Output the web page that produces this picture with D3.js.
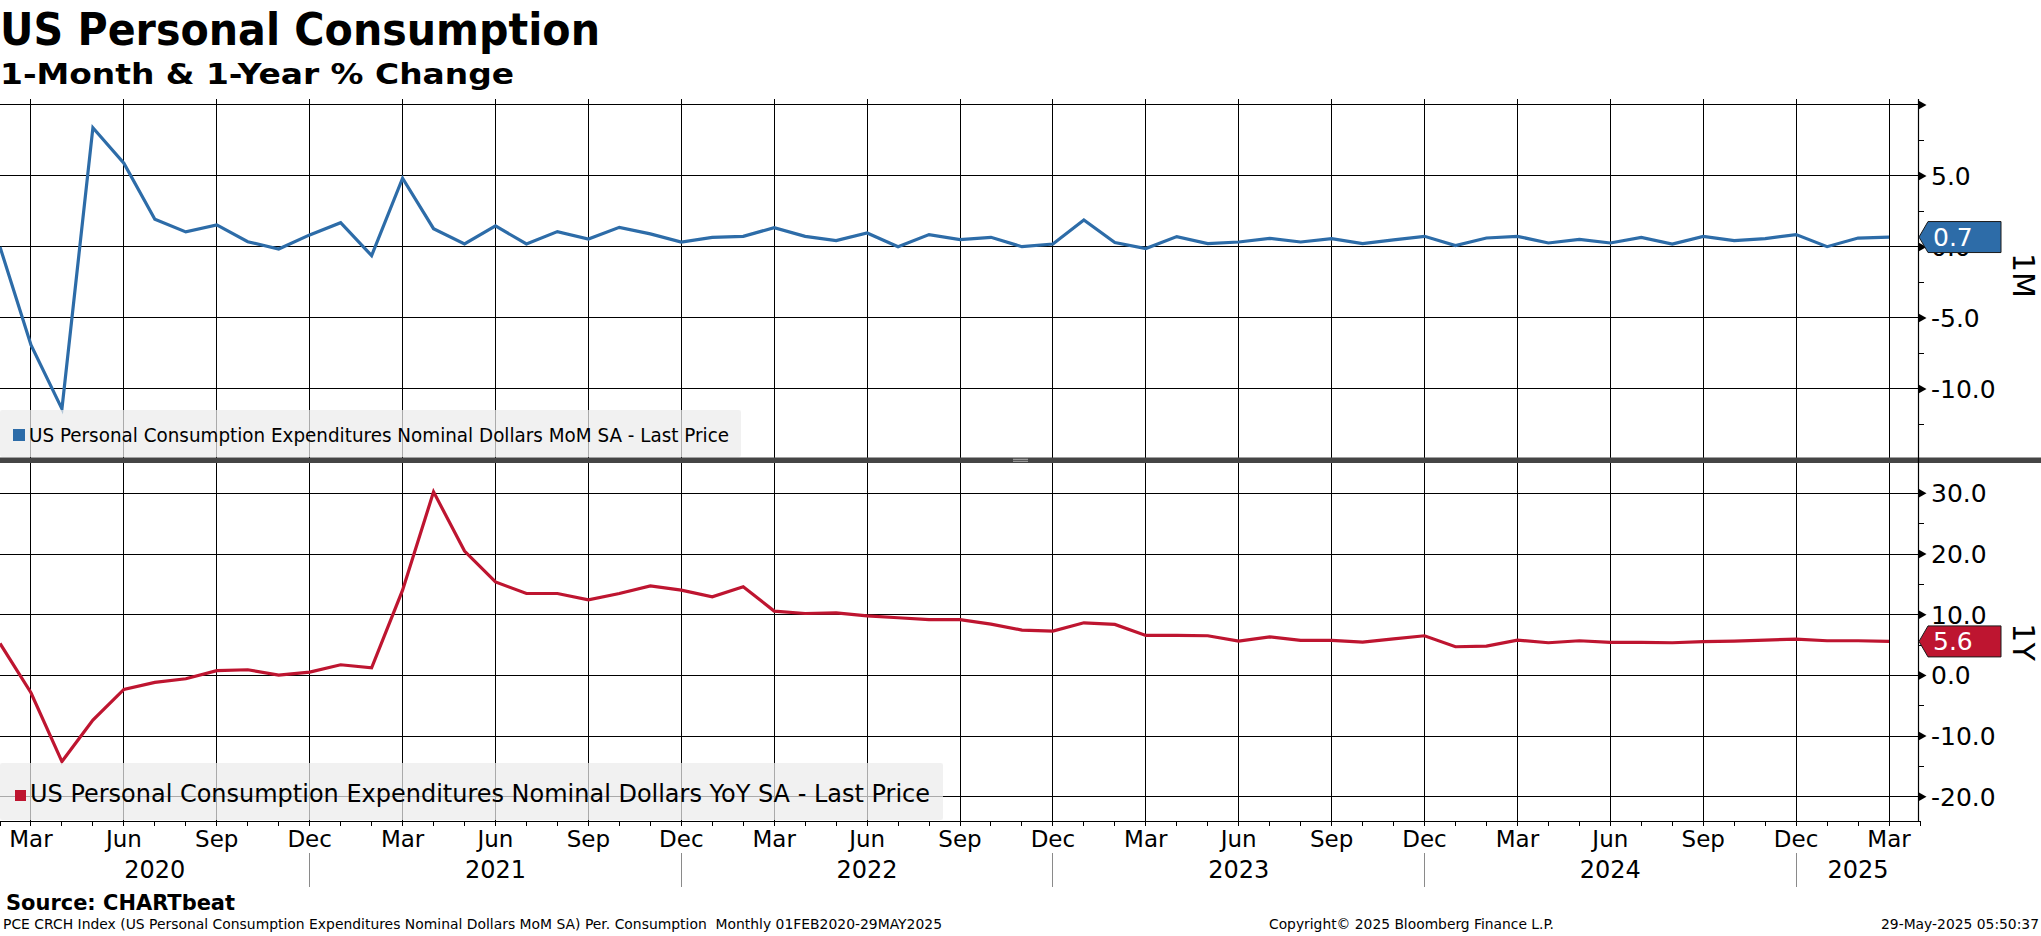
<!DOCTYPE html>
<html lang="en">
<head>
<meta charset="UTF-8">
<title>US Personal Consumption</title>
<script src="https://d3js.org/d3.v7.min.js"></script>
<style>
  body { margin: 0; background: #fff; }
  svg text { font-family: "DejaVu Sans", Verdana, sans-serif; fill: #000; white-space: pre; }
  .bold { font-weight: bold; }
</style>
</head>
<body>
<div id="chart"></div>
<script>
// ---- data ----
const startMonth = new Date(Date.UTC(2020, 1, 1));   // Feb 2020
const monthCount = 62;                                // Feb 2020 .. Mar 2025

// 1-month % change, Feb 2020 .. Mar 2025
const momValues = [
  0.0, -6.9, -11.4, 8.4, 5.9, 1.95, 1.06, 1.55, 0.37, -0.14, 0.85,
  1.71, -0.61, 4.84, 1.29, 0.21, 1.48, 0.21, 1.08, 0.56, 1.38, 0.92, 0.35,
  0.68, 0.75, 1.36, 0.75, 0.45, 0.99, 0.02, 0.87, 0.52, 0.68, 0.02, 0.21,
  1.9, 0.31, -0.11, 0.73, 0.24, 0.35, 0.61, 0.35, 0.59, 0.24, 0.5, 0.75,
  0.1, 0.63, 0.75, 0.28, 0.54, 0.28, 0.68, 0.21, 0.75, 0.45, 0.59, 0.87,
  0.02, 0.63, 0.7
];

// 1-year % change, Feb 2020 .. Mar 2025
const yoyValues = [
  5.27, -2.86, -14.2, -7.36, -2.31, -1.15, -0.55, 0.77, 0.93, 0.05, 0.55,
  1.75, 1.26, 14.05, 30.25, 20.5, 15.4, 13.5, 13.5, 12.46, 13.5, 14.76, 14.05,
  12.95, 14.6, 10.6, 10.2, 10.3, 9.8, 9.5, 9.2, 9.2, 8.45, 7.46, 7.3,
  8.67, 8.4, 6.59, 6.59, 6.53, 5.65, 6.36, 5.76, 5.76, 5.49, 6.03, 6.53,
  4.72, 4.83, 5.82, 5.38, 5.71, 5.43, 5.43, 5.38, 5.55, 5.65, 5.82, 5.98,
  5.71, 5.71, 5.6
];

const topTicks = [10, 5, 0, -5, -10];
const topLabels = [5, 0, -5, -10];
const topMinor = [7.5, 2.5, -2.5, -7.5, -12.5];
const botTicks = [30, 20, 10, 0, -10, -20];
const botMinor = [25, 15, 5, -5, -15];

const momName = "US Personal Consumption Expenditures Nominal Dollars MoM SA - Last Price";
const yoyName = "US Personal Consumption Expenditures Nominal Dollars YoY SA - Last Price";
const monthNames = { 2: "Mar", 5: "Jun", 8: "Sep", 11: "Dec" };

const blue = "#2d6ca8";
const red = "#be1530";

// ---- layout ----
const W = 2041, H = 936;
const plotL = 0, plotR = 1920;
const topY0 = 99, topY1 = 458;
const botY0 = 460, botY1 = 821;

const months = d3.utcMonth.range(startMonth, d3.utcMonth.offset(startMonth, monthCount));

const x = d3.scaleLinear().domain([0, monthCount]).range([plotL, plotR]);
const yTop = d3.scaleLinear().domain([-14.86, 10.42]).range([topY1, topY0]);
const yBot = d3.scaleLinear().domain([-24, 35.5]).range([botY1, botY0]);

const svg = d3.select("#chart").append("svg")
  .attr("width", W).attr("height", H);

// ---- titles ----
svg.append("text").attr("class", "bold")
  .attr("x", 0).attr("y", 45)
  .attr("font-size", 44)
  .attr("textLength", 600).attr("lengthAdjust", "spacingAndGlyphs")
  .text("US Personal Consumption");
svg.append("text").attr("class", "bold")
  .attr("x", 0).attr("y", 84)
  .attr("font-size", 29)
  .attr("textLength", 514).attr("lengthAdjust", "spacingAndGlyphs")
  .text("1-Month & 1-Year % Change");

// ---- grid ----
const grid = svg.append("g").attr("shape-rendering", "crispEdges");
const quarterIdx = d3.range(0, monthCount).filter(i => monthNames[months[i].getUTCMonth()]);

grid.selectAll(".vgrid").data(quarterIdx).join("line")
  .attr("x1", i => x(i)).attr("x2", i => x(i))
  .attr("y1", topY0).attr("y2", botY1)
  .attr("stroke", "#000").attr("stroke-width", 1);

grid.selectAll(".hgt").data(topTicks).join("line")
  .attr("x1", plotL).attr("x2", plotR)
  .attr("y1", d => yTop(d)).attr("y2", d => yTop(d))
  .attr("stroke", "#000");
grid.selectAll(".hgb").data(botTicks).join("line")
  .attr("x1", plotL).attr("x2", plotR)
  .attr("y1", d => yBot(d)).attr("y2", d => yBot(d))
  .attr("stroke", "#000");

// ---- lines ----
const lineTop = d3.line().x((d, i) => x(i)).y(d => yTop(d));
const lineBot = d3.line().x((d, i) => x(i)).y(d => yBot(d));

svg.append("path").datum(momValues)
  .attr("fill", "none").attr("stroke", blue).attr("stroke-width", 3.2)
  .attr("stroke-linejoin", "miter").attr("d", lineTop);
svg.append("path").datum(yoyValues)
  .attr("fill", "none").attr("stroke", red).attr("stroke-width", 3.2)
  .attr("stroke-linejoin", "miter").attr("d", lineBot);

// ---- legends ----
function legend(y, h, w, color, label, fs, textLen, sq, sx, tx, ty) {
  svg.append("rect").attr("x", 0).attr("y", y).attr("width", w).attr("height", h)
    .attr("rx", 2).attr("fill", "#ececec").attr("fill-opacity", 0.72);
  svg.append("rect").attr("x", sx).attr("y", ty - sq - 1).attr("width", sq).attr("height", sq)
    .attr("fill", color);
  svg.append("text").attr("x", tx).attr("y", ty)
    .attr("font-size", fs)
    .attr("textLength", textLen).attr("lengthAdjust", "spacingAndGlyphs")
    .text(label);
}
legend(410, 47, 741, blue, momName, 19, 700, 12, 13, 29, 442);
legend(763, 57, 943, red, yoyName, 25, 900, 11, 15, 30, 802);

// ---- separator ----
svg.append("rect").attr("x", 0).attr("y", 457.5).attr("width", W).attr("height", 5.5)
  .attr("fill", "#454545");
svg.append("line").attr("x1", 1013).attr("x2", 1028).attr("y1", 459.3).attr("y2", 459.3)
  .attr("stroke", "#aaa").attr("stroke-width", 1);
svg.append("line").attr("x1", 1013).attr("x2", 1028).attr("y1", 461.3).attr("y2", 461.3)
  .attr("stroke", "#aaa").attr("stroke-width", 1);

// ---- right axes ----
const axisX = 1918.5;
svg.append("line").attr("x1", axisX).attr("x2", axisX).attr("y1", topY0).attr("y2", botY1 + 0.5)
  .attr("stroke", "#000").attr("stroke-width", 1.2);

function rightAxis(scale, major, minor, labels, fmt) {
  const g = svg.append("g");
  g.selectAll(".tri").data(major).join("path")
    .attr("d", d => `M${axisX},${scale(d) - 4.5}L${axisX + 8},${scale(d)}L${axisX},${scale(d) + 4.5}Z`)
    .attr("fill", "#000");
  g.selectAll(".mn").data(minor).join("line")
    .attr("x1", axisX).attr("x2", axisX + 5)
    .attr("y1", d => scale(d)).attr("y2", d => scale(d))
    .attr("stroke", "#000").attr("shape-rendering", "crispEdges");
  g.selectAll(".lb").data(labels).join("text")
    .attr("x", 1931).attr("y", d => scale(d))
    .attr("dy", "0.36em")
    .attr("font-size", 25)
    .text(d => fmt(d));
}
const fmt1 = d3.format(".1f");
const fmtLab = d => (d < 0 ? "-" : "") + fmt1(Math.abs(d));
rightAxis(yTop, topTicks, topMinor, topLabels, fmtLab);
rightAxis(yBot, botTicks, botMinor, botTicks, fmtLab);

// ---- last value tags ----
function tag(scale, value, color) {
  const y = scale(value);
  svg.append("path")
    .attr("d", `M${axisX + 0.5},${y}L${1928},${y - 15.5}L${2001},${y - 15.5}L${2001},${y + 15.5}L${1928},${y + 15.5}Z`)
    .attr("fill", color).attr("stroke", "#1b1b1b").attr("stroke-width", 1);
  svg.append("text").attr("x", 1933).attr("y", y).attr("dy", "0.36em")
    .attr("font-size", 25).style("fill", "#fff")
    .text(fmt1(value));
}
tag(yTop, momValues[momValues.length - 1], blue);
tag(yBot, yoyValues[yoyValues.length - 1], red);

// ---- axis titles ----
svg.append("text").attr("transform", `translate(2013,${yTop(-2)}) rotate(90)`)
  .attr("text-anchor", "middle").attr("font-size", 30).text("1M");
svg.append("text").attr("transform", `translate(2013,${yBot(5.5)}) rotate(90)`)
  .attr("text-anchor", "middle").attr("font-size", 30).text("1Y");

// ---- bottom time axis ----
const xa = svg.append("g");
xa.append("line").attr("x1", plotL).attr("x2", plotR).attr("y1", botY1 + 0.5).attr("y2", botY1 + 0.5)
  .attr("stroke", "#000").attr("stroke-width", 1.2);
xa.selectAll(".mt").data(d3.range(0, monthCount + 1)).join("line")
  .attr("x1", i => x(i)).attr("x2", i => x(i))
  .attr("y1", botY1).attr("y2", botY1 + 5)
  .attr("stroke", "#000").attr("shape-rendering", "crispEdges");
xa.selectAll(".ml").data(quarterIdx).join("text")
  .attr("x", i => x(i)).attr("y", 847)
  .attr("text-anchor", "middle").attr("font-size", 23)
  .text(i => monthNames[months[i].getUTCMonth()]);

const decIdx = quarterIdx.filter(i => months[i].getUTCMonth() === 11);
xa.selectAll(".ys").data(decIdx).join("line")
  .attr("x1", i => x(i)).attr("x2", i => x(i))
  .attr("y1", 853).attr("y2", 887)
  .attr("stroke", "#8a8a8a").attr("shape-rendering", "crispEdges");

const years = d3.groups(d3.range(0, monthCount), i => months[i].getUTCFullYear());
xa.selectAll(".yl").data(years).join("text")
  .attr("x", ([yr, idx]) => {
    const a = idx[0] === 0 ? x(0) : x(idx[0] - 1);
    const b = idx[idx.length - 1] === monthCount - 1 ? x(monthCount) : x(idx[idx.length - 1]);
    return (a + b) / 2;
  })
  .attr("y", 878).attr("text-anchor", "middle").attr("font-size", 24)
  .text(([yr]) => yr);

// ---- footer ----
svg.append("text").attr("class", "bold").attr("x", 6).attr("y", 910)
  .attr("font-size", 21).attr("textLength", 229).attr("lengthAdjust", "spacingAndGlyphs")
  .text("Source: CHARTbeat");
svg.append("text").attr("x", 3).attr("y", 929).attr("font-size", 13.5)
  .attr("textLength", 939).attr("lengthAdjust", "spacingAndGlyphs")
  .text("PCE CRCH Index (US Personal Consumption Expenditures Nominal Dollars MoM SA) Per. Consumption  Monthly 01FEB2020-29MAY2025");
svg.append("text").attr("x", 1269).attr("y", 929).attr("font-size", 13.5)
  .attr("textLength", 285).attr("lengthAdjust", "spacingAndGlyphs")
  .text("Copyright\u00A9 2025 Bloomberg Finance L.P.");
svg.append("text").attr("x", 1881).attr("y", 929).attr("font-size", 13.5)
  .attr("textLength", 158).attr("lengthAdjust", "spacingAndGlyphs")
  .text("29-May-2025 05:50:37");
</script>
</body>
</html>
